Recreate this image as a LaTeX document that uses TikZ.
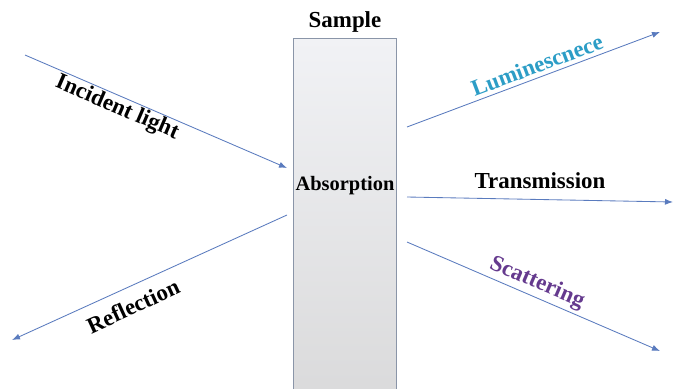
\documentclass[tikz,border=0pt]{standalone}
\usepackage{fontspec}
\setmainfont{Liberation Serif}
\usetikzlibrary{arrows.meta}
\definecolor{raycol}{HTML}{5A7BBE}
\definecolor{lumcol}{HTML}{2C9DC6}
\definecolor{scatcol}{HTML}{653A8E}
\definecolor{boxedge}{HTML}{8A95A8}
\definecolor{boxtop}{HTML}{F1F2F5}
\definecolor{boxbot}{HTML}{DADADB}
\tikzset{
  ray/.style={draw=raycol, line width=0.85bp, -{Latex[length=8bp,width=6bp]}},
  lbl/.style={font=\fontsize{23}{26}\selectfont\bfseries, inner sep=0pt},
}
\begin{document}
\begin{tikzpicture}[x=1bp, y=-1bp]
\useasboundingbox (0,0) rectangle (673,388);

% sample slab
\node[draw=boxedge, line width=0.8bp, top color=boxtop, bottom color=boxbot,
      minimum width=103bp, minimum height=360bp, anchor=north, inner sep=0pt]
  (slab) at (345,38) {};
\node[lbl] (samplelbl) at (345,22) {Sample};
\node[font=\fontsize{20.5}{24}\selectfont\bfseries, inner sep=0pt] (absorb) at (345,186) {Absorption};

% ray end points
\coordinate (incA) at (25,55);
\coordinate (incB) at (287,168);
\coordinate (refA) at (287,215);
\coordinate (refB) at (12,340);
\coordinate (lumA) at (407,127);
\coordinate (lumB) at (660,32);
\coordinate (traA) at (407,197);
\coordinate (traB) at (673,202);
\coordinate (scaA) at (407,242);
\coordinate (scaB) at (660,351);

\draw[ray] (incA) -- (incB);
\draw[ray] (refA) -- (refB);
\draw[ray] (lumA) -- (lumB);
\draw[ray] (traA) -- (traB);
\draw[ray] (scaA) -- (scaB);

% labels
\node[lbl, rotate=-23.3] (inclbl) at (117,108) {Incident light};
\node[lbl, rotate=24.8] (reflbl) at (133,306) {Reflection};
\node[lbl, rotate=20.5, text=lumcol] (lumlbl) at (537,65) {Luminescnece};
\node[lbl] (tralbl) at (540,181) {Transmission};
\node[lbl, rotate=-23.3, text=scatcol] (scalbl) at (537,283) {Scattering};
\end{tikzpicture}
\end{document}
